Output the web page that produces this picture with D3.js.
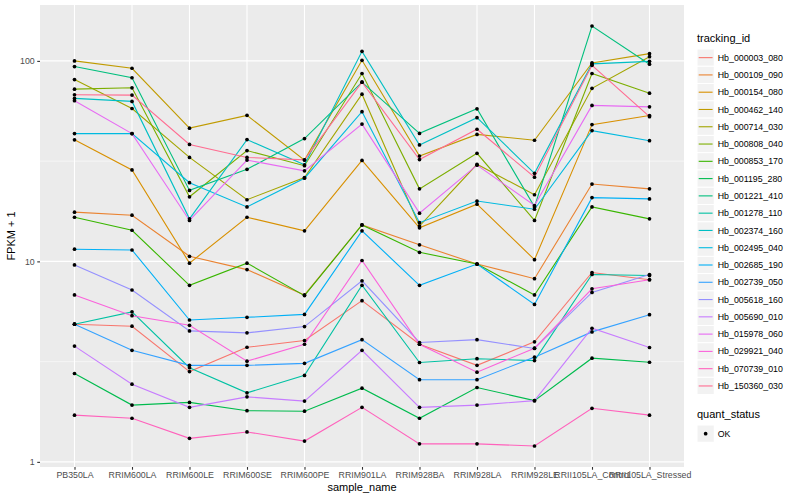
<!DOCTYPE html>
<html>
<head>
<meta charset="utf-8">
<script src="https://cdn.jsdelivr.net/npm/d3@7"></script>
<style>
  body { margin: 0; background: #fff; }
  text { font-family: "Liberation Sans", Arial, sans-serif; }
</style>
</head>
<body>
<div id="chart"></div>
<script>
// sample names on the x axis
var samples = ["PB350LA", "RRIM600LA", "RRIM600LE", "RRIM600SE", "RRIM600PE", "RRIM901LA",
    "RRIM928BA", "RRIM928LA", "RRIM928LE", "RRII105LA_Control", "RRII105LA_Stressed"];

var trackingIds = ["Hb_000003_080", "Hb_000109_090", "Hb_000154_080", "Hb_000462_140", "Hb_000714_030",
    "Hb_000808_040", "Hb_000853_170", "Hb_001195_280", "Hb_001221_410", "Hb_001278_110",
    "Hb_002374_160", "Hb_002495_040", "Hb_002685_190", "Hb_002739_050", "Hb_005618_160",
    "Hb_005690_010", "Hb_015978_060", "Hb_029921_040", "Hb_070739_010", "Hb_150360_030"];

// FPKM + 1, one list per gene, in sample order
var hb_000003_080 = [4.86, 4.75, 2.82, 3.73, 4.03, 6.37, 3.86, 3.03, 3.97, 8.8, 8.1];
var hb_000109_090 = [17.6, 17.0, 10.6, 9.1, 6.8, 15.2, 12.1, 9.7, 8.2, 24.3, 23.0];
var hb_000154_080 = [40.4, 28.6, 9.8, 16.6, 14.2, 31.9, 14.7, 19.3, 10.2, 48.1, 53.4];
var hb_000462_140 = [100, 91.9, 46.2, 53.5, 32, 100.7, 33.5, 43, 40.2, 97.7, 108.7];
var hb_000714_030 = [80.7, 57.9, 33, 20.3, 26.2, 68.2, 15.0, 30.5, 21.5, 73, 105];
var hb_000808_040 = [72.3, 73.4, 21, 35.7, 30, 86.5, 23, 34.6, 16, 86.5, 69];
var hb_000853_170 = [16.6, 14.3, 7.6, 9.8, 6.75, 15.2, 11.1, 9.7, 6.8, 18.7, 16.3];
var hb_001195_280 = [2.76, 1.92, 1.98, 1.80, 1.79, 2.33, 1.65, 2.35, 2.02, 3.29, 3.14];
var hb_001221_410 = [93.7, 82.4, 22.6, 28.8, 41, 78.3, 43.5, 57.7, 18.7, 149.3, 96.3];
var hb_001278_110 = [4.86, 5.6, 2.95, 2.21, 2.7, 7.6, 3.13, 3.27, 3.2, 8.6, 8.5];
var hb_002374_160 = [65, 62.8, 16.3, 40.5, 30.3, 111.6, 38.1, 52.1, 27.5, 96.6, 99.5];
var hb_002495_040 = [43.4, 43.4, 24.7, 18.7, 26, 55.8, 15.6, 20, 18.2, 44.9, 40];
var hb_002685_190 = [11.5, 11.4, 5.1, 5.26, 5.44, 14.2, 7.6, 9.7, 6.1, 20.8, 20.5];
var hb_002739_050 = [4.86, 3.6, 3.03, 3.03, 3.1, 4.07, 2.57, 2.57, 3.33, 4.45, 5.42];
var hb_005618_160 = [9.6, 7.2, 4.5, 4.4, 4.73, 8.0, 3.94, 4.07, 3.68, 7.0, 8.6];
var hb_005690_010 = [3.78, 2.44, 1.87, 2.11, 2.01, 3.6, 1.87, 1.92, 2.02, 4.64, 3.72];
var hb_015978_060 = [63.3, 43.4, 16, 32, 28.3, 48.4, 17.4, 30.2, 19, 60, 59];
var hb_029921_040 = [6.8, 5.36, 4.8, 3.18, 3.86, 10.1, 3.86, 2.8, 3.69, 7.3, 8.1];
var hb_070739_010 = [1.71, 1.65, 1.31, 1.41, 1.27, 1.87, 1.23, 1.23, 1.2, 1.85, 1.71];
var hb_150360_030 = [67.8, 67.5, 38.3, 33, 32.1, 78.3, 32.2, 45.6, 26.3, 95, 52.7];

var yTicks = [1, 10, 100];
var quantStatus = ["OK"];

var seriesValues = [hb_000003_080, hb_000109_090, hb_000154_080, hb_000462_140, hb_000714_030,
    hb_000808_040, hb_000853_170, hb_001195_280, hb_001221_410, hb_001278_110,
    hb_002374_160, hb_002495_040, hb_002685_190, hb_002739_050, hb_005618_160,
    hb_005690_010, hb_015978_060, hb_029921_040, hb_070739_010, hb_150360_030];

// ggplot hue palette for 20 levels
var colors = ["#F8766D", "#EA8331", "#D89000", "#C09B00", "#A3A500", "#7CAE00", "#39B600", "#00BB4E",
    "#00BF7D", "#00C1A3", "#00BFC4", "#00BAE0", "#00B0F6", "#35A2FF", "#9590FF", "#C77CFF",
    "#E76BF3", "#FA62DB", "#FF62BC", "#FF6C91"];

var W = 800, H = 500;
var panel = { left: 40, right: 684, top: 5, bottom: 467 };
var pointR = 1.85;

var series = trackingIds.map(function (id, i) {
    return { id: id, color: colors[i], values: seriesValues[i].map(function (v, j) {
        return { sample: samples[j], value: v };
    }) };
});

var svg = d3.select("#chart").append("svg")
    .attr("width", W)
    .attr("height", H);

svg.append("rect").attr("width", W).attr("height", H).attr("fill", "#fff");

var x = d3.scalePoint()
    .domain(samples)
    .range([panel.left, panel.right])
    .padding(0.6);

var all = d3.merge(seriesValues);
var lmin = Math.log10(d3.min(all)), lmax = Math.log10(d3.max(all));
var pad = (lmax - lmin) * 0.05;
var y = d3.scaleLog()
    .domain([Math.pow(10, lmin - pad), Math.pow(10, lmax + pad)])
    .range([panel.bottom, panel.top]);

// panel background + grid
svg.append("rect")
    .attr("x", panel.left).attr("y", panel.top)
    .attr("width", panel.right - panel.left).attr("height", panel.bottom - panel.top)
    .attr("fill", "#EBEBEB");

var grid = svg.append("g");
var minor = [];
for (var i = 0; i < yTicks.length - 1; i++) minor.push(Math.sqrt(yTicks[i] * yTicks[i + 1]));
grid.selectAll(".ymin").data(minor).enter().append("line")
    .attr("x1", panel.left).attr("x2", panel.right)
    .attr("y1", function (d) { return y(d); }).attr("y2", function (d) { return y(d); })
    .attr("stroke", "#fff").attr("stroke-width", 0.55);
grid.selectAll(".ymaj").data(yTicks).enter().append("line")
    .attr("x1", panel.left).attr("x2", panel.right)
    .attr("y1", function (d) { return y(d); }).attr("y2", function (d) { return y(d); })
    .attr("stroke", "#fff").attr("stroke-width", 1.1);
grid.selectAll(".xmaj").data(samples).enter().append("line")
    .attr("y1", panel.top).attr("y2", panel.bottom)
    .attr("x1", function (d) { return x(d); }).attr("x2", function (d) { return x(d); })
    .attr("stroke", "#fff").attr("stroke-width", 1.1);

// lines
var line = d3.line()
    .x(function (d) { return x(d.sample); })
    .y(function (d) { return y(d.value); });

svg.append("g").selectAll("path").data(series).enter().append("path")
    .attr("d", function (d) { return line(d.values); })
    .attr("fill", "none")
    .attr("stroke", function (d) { return d.color; })
    .attr("stroke-width", 1.1);

// points
svg.append("g").selectAll("g").data(series).enter().append("g")
    .selectAll("circle").data(function (d) { return d.values; }).enter().append("circle")
    .attr("cx", function (d) { return x(d.sample); })
    .attr("cy", function (d) { return y(d.value); })
    .attr("r", pointR)
    .attr("fill", "#000");

// axes
var xAxis = svg.append("g")
    .attr("transform", "translate(0," + panel.bottom + ")")
    .call(d3.axisBottom(x).tickSize(2.75).tickPadding(2.5));
var yAxis = svg.append("g")
    .attr("transform", "translate(" + panel.left + ",0)")
    .call(d3.axisLeft(y).tickValues(yTicks).tickFormat(d3.format("d")).tickSize(2.75).tickPadding(2.5));

[xAxis, yAxis].forEach(function (a) {
    a.select(".domain").remove();
    a.selectAll(".tick line").attr("stroke", "#333333").attr("stroke-width", 1.1);
    a.selectAll(".tick text").attr("fill", "#4D4D4D").style("font-size", "8.8px")
        .style("font-family", "'Liberation Sans', Arial, sans-serif");
});

svg.append("text")
    .attr("x", (panel.left + panel.right) / 2).attr("y", 491)
    .attr("text-anchor", "middle").style("font-size", "11px")
    .text("sample_name");
svg.append("text")
    .attr("transform", "translate(15," + (panel.top + panel.bottom) / 2 + ") rotate(-90)")
    .attr("text-anchor", "middle").style("font-size", "11px")
    .text("FPKM + 1");

// legend
var lg = svg.append("g").attr("transform", "translate(697,0)");
var keyH = 17.28, key0 = 49;
lg.append("text").attr("x", 0).attr("y", 42).style("font-size", "11px").text("tracking_id");
var items = lg.selectAll("g.item").data(series).enter().append("g")
    .attr("transform", function (d, i) { return "translate(0," + (key0 + i * keyH) + ")"; });
items.append("rect").attr("width", keyH).attr("height", keyH)
    .attr("fill", "#F2F2F2").attr("stroke", "#fff").attr("stroke-width", 1);
items.append("line").attr("x1", 1.7).attr("x2", keyH - 1.7)
    .attr("y1", keyH / 2).attr("y2", keyH / 2)
    .attr("stroke", function (d) { return d.color; }).attr("stroke-width", 1.1);
items.append("text").attr("x", keyH + 3.5).attr("y", keyH / 2).attr("dy", "0.35em")
    .style("font-size", "8.8px").text(function (d) { return d.id; });

var q0 = 425;
lg.append("text").attr("x", 0).attr("y", 418).style("font-size", "11px").text("quant_status");
var qItems = lg.selectAll("g.q").data(quantStatus).enter().append("g")
    .attr("transform", function (d, i) { return "translate(0," + (q0 + i * keyH) + ")"; });
qItems.append("rect").attr("width", keyH).attr("height", keyH)
    .attr("fill", "#F2F2F2").attr("stroke", "#fff").attr("stroke-width", 1);
qItems.append("circle").attr("cx", keyH / 2).attr("cy", keyH / 2).attr("r", pointR).attr("fill", "#000");
qItems.append("text").attr("x", keyH + 3.5).attr("y", keyH / 2).attr("dy", "0.35em")
    .style("font-size", "8.8px").text(function (d) { return d; });
</script>
</body>
</html>
